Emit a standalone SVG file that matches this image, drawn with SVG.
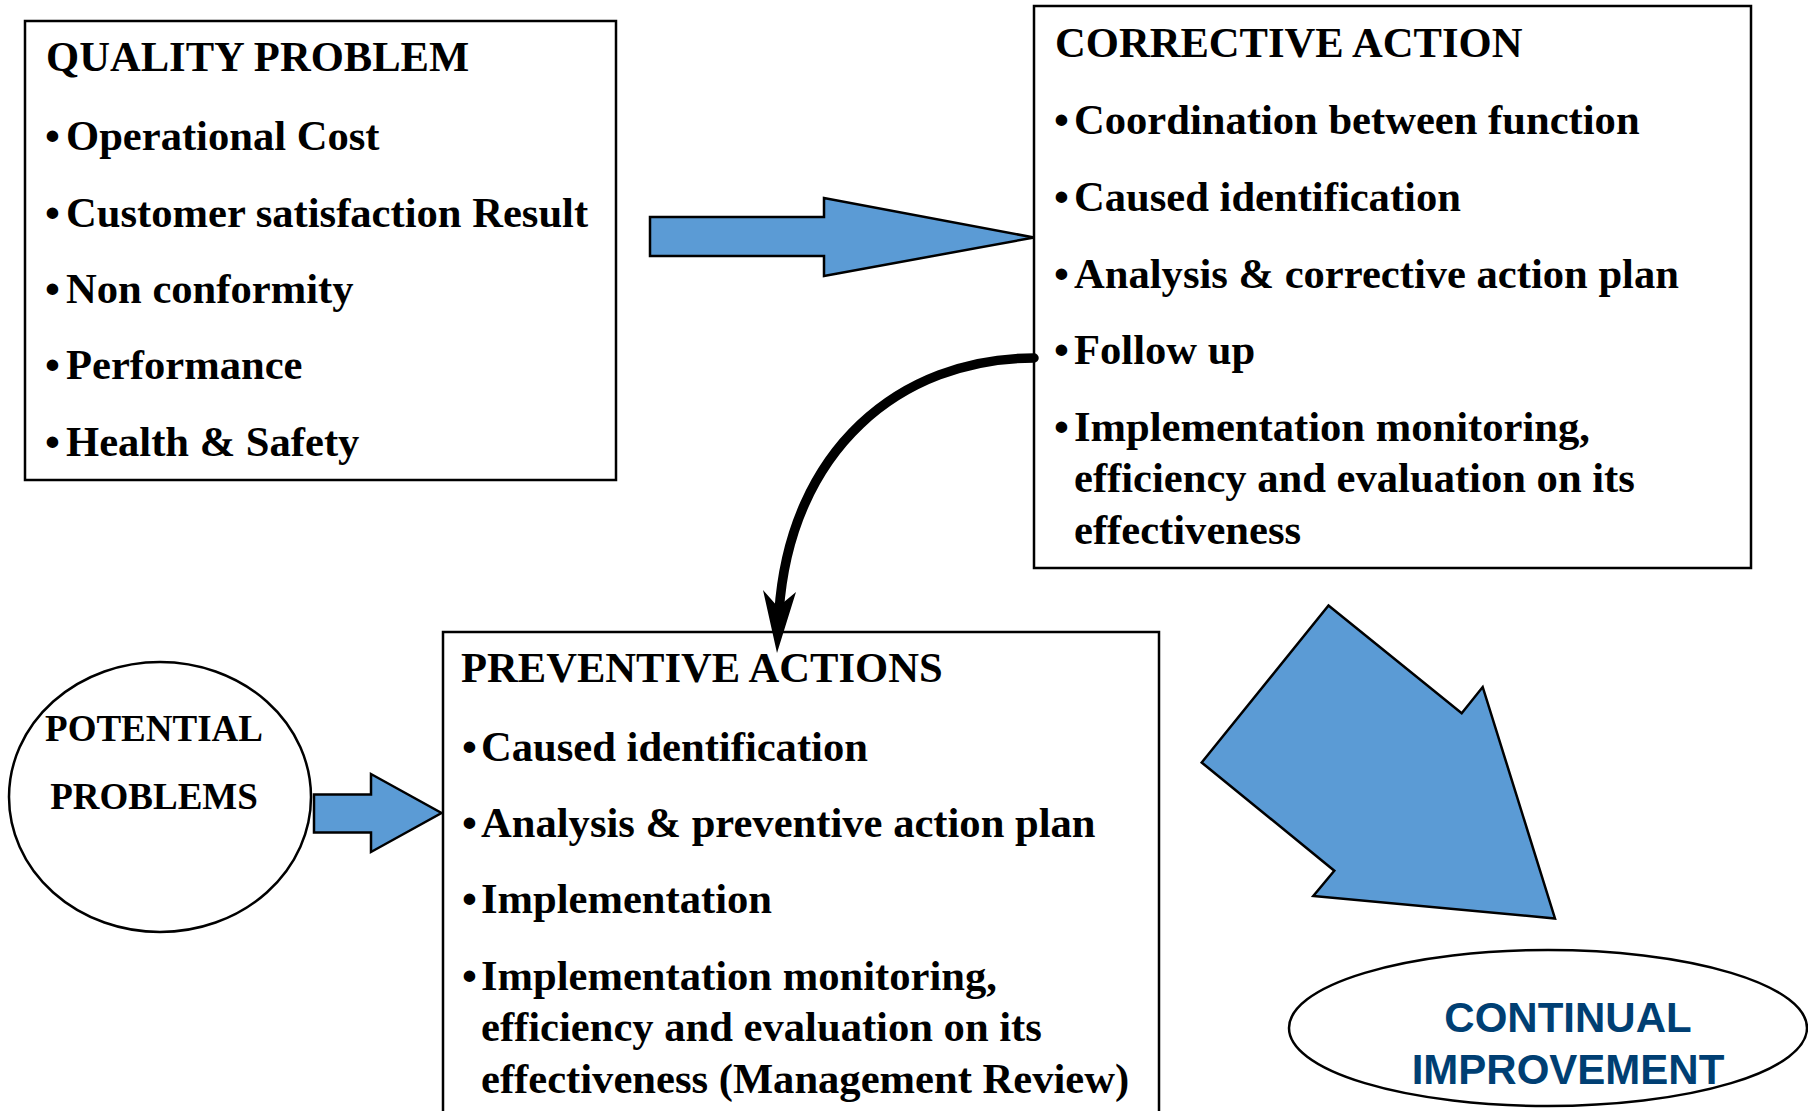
<svg xmlns="http://www.w3.org/2000/svg" width="1808" height="1111" viewBox="0 0 1808 1111">
<style>
.box{fill:#fff;stroke:#000;stroke-width:2.5}
.blue{fill:#5b9bd5;stroke:#000;stroke-width:2.5;stroke-linejoin:miter}
.t{font-family:"Liberation Serif","Times New Roman",serif;font-weight:bold;font-size:42.6px;fill:#000}
.pp{font-family:"Liberation Serif","Times New Roman",serif;font-weight:bold;font-size:37px;fill:#000;text-anchor:middle}
.ci{font-family:"Liberation Sans",Arial,sans-serif;font-weight:bold;font-size:42px;fill:#003f73;text-anchor:middle}
</style>
<rect width="1808" height="1111" fill="#fff"/>
<g id="quality-problem">
<rect class="box" x="25" y="21" width="591" height="459"/>
<text class="t" x="46" y="71">QUALITY PROBLEM</text>
<text class="t" x="45" y="150">•</text><text class="t" x="66" y="150">Operational Cost</text>
<text class="t" x="45" y="227">•</text><text class="t" x="66" y="227">Customer satisfaction Result</text>
<text class="t" x="45" y="303">•</text><text class="t" x="66" y="303">Non conformity</text>
<text class="t" x="45" y="379">•</text><text class="t" x="66" y="379">Performance</text>
<text class="t" x="45" y="456">•</text><text class="t" x="66" y="456">Health &amp; Safety</text>
</g>
<g id="corrective-action">
<rect class="box" x="1034" y="6" width="717" height="562"/>
<text class="t" x="1055" y="57">CORRECTIVE ACTION</text>
<text class="t" x="1054" y="134">•</text><text class="t" x="1074" y="134">Coordination between function</text>
<text class="t" x="1054" y="211">•</text><text class="t" x="1074" y="211">Caused identification</text>
<text class="t" x="1054" y="288">•</text><text class="t" x="1074" y="288">Analysis &amp; corrective action plan</text>
<text class="t" x="1054" y="364">•</text><text class="t" x="1074" y="364">Follow up</text>
<text class="t" x="1054" y="441">•</text><text class="t" x="1074" y="441">Implementation monitoring,</text>
<text class="t" x="1074" y="492">efficiency and evaluation on its</text>
<text class="t" x="1074" y="544">effectiveness</text>
</g>
<g id="potential-problems">
<ellipse cx="160" cy="797" rx="151" ry="135" fill="#fff" stroke="#000" stroke-width="2.5"/>
<text class="pp" x="154" y="741">POTENTIAL</text>
<text class="pp" x="154" y="809">PROBLEMS</text>
</g>
<g id="preventive-actions">
<rect class="box" x="443" y="632" width="716" height="500"/>
<text class="t" x="461" y="682">PREVENTIVE ACTIONS</text>
<text class="t" x="462" y="761">•</text><text class="t" x="481" y="761">Caused identification</text>
<text class="t" x="462" y="837">•</text><text class="t" x="481" y="837">Analysis &amp; preventive action plan</text>
<text class="t" x="462" y="913">•</text><text class="t" x="481" y="913">Implementation</text>
<text class="t" x="462" y="990">•</text><text class="t" x="481" y="990">Implementation monitoring,</text>
<text class="t" x="481" y="1041">efficiency and evaluation on its</text>
<text class="t" x="481" y="1093">effectiveness (Management Review)</text>
</g>
<g id="continual-improvement">
<ellipse cx="1548" cy="1028" rx="259" ry="78" fill="#fff" stroke="#000" stroke-width="2.5"/>
<text class="ci" x="1568" y="1032">CONTINUAL</text>
<text class="ci" x="1568" y="1084">IMPROVEMENT</text>
</g>
<g id="connectors">
<polygon class="blue" points="650,217 824,217 824,198 1034,237.5 824,276 824,256 650,256"/>
<polygon class="blue" points="314,794.5 371,794.5 371,774 441.5,813 371,852 371,832.5 314,832.5"/>
<polygon class="blue" points="1328.5,605.5 1461.7,713.3 1482.7,687 1555,918.5 1313.3,896 1334.3,870.7 1201.7,762.5"/>
<path d="M1034,358 C900,358 790,450 779,612" fill="none" stroke="#000" stroke-width="9.5" stroke-linecap="round"/>
<polygon points="763,590 778,607 796,592 777,653" fill="#000"/>
</g>
</svg>
